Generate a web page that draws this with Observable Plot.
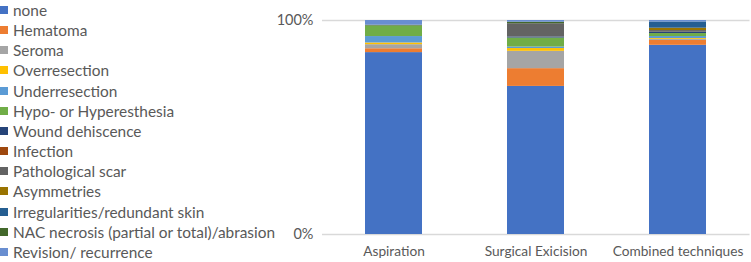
<!DOCTYPE html>
<html>
<head>
<meta charset="utf-8">
<script src="https://cdn.jsdelivr.net/npm/d3@7"></script>
<script src="https://cdn.jsdelivr.net/npm/@observablehq/plot@0.6"></script>
<style>
  body { margin: 0; background: #fff; }
  #wrap { position: relative; width: 751px; height: 262px; font-family: Lato, "Open Sans", sans-serif; }
  #legend { position: absolute; left: 0; top: 0; }
  .item { position: absolute; left: 0; height: 20px; white-space: nowrap; font-size: 15.4px; color: #595959; display: flex; align-items: center; }
  .sw { width: 8px; height: 8px; margin-right: 5px; flex: none; }
  #chart { position: absolute; left: 0; top: 0; }
</style>
</head>
<body>
<div id="wrap"><div id="chart"></div><div id="legend"></div></div>
<script>
const categories = ["Aspiration", "Surgical Exicision", "Combined techniques"];
const series = ["none", "Hematoma", "Seroma", "Overresection", "Underresection", "Hypo- or Hyperesthesia", "Wound dehiscence", "Infection", "Pathological scar", "Asymmetries", "Irregularities/redundant skin", "NAC necrosis (partial or total)/abrasion", "Revision/ recurrence"];
const colors = ["#4472C4", "#ED7D31", "#A5A5A5", "#FFC000", "#5B9BD5", "#70AD47", "#264478", "#9E480E", "#636363", "#997300", "#255E91", "#43682B", "#698ED0"];
// percent values in series order
const aspiration = [85.0, 1.8, 1.9, 0.8, 3.0, 4.9, 0, 0, 0, 0, 0, 0.4, 2.2];
const surgical   = [69.2, 8.3, 8.1, 1.3, 0.7, 4.2, 0.5, 0, 6.2, 0, 0, 0.7, 0.8];
const combined   = [88.4, 2.3, 0.5, 0.4, 0.9, 1.4, 0.6, 0, 0.8, 1.1, 2.9, 0, 0.7];
const yTicks = [0, 1];

const valuesByCat = [aspiration, surgical, combined];
const table = [];
categories.forEach((c, i) => series.forEach((s, j) => table.push({cat: c, series: s, value: valuesByCat[i][j] / 100})));

const chart = Plot.plot({
  width: 751,
  height: 262,
  marginLeft: 322,
  marginRight: 1.5,
  marginTop: 20,
  marginBottom: 28,
  style: {fontFamily: "Lato, 'Open Sans', sans-serif", fontSize: "13px", color: "#595959", background: "transparent"},
  x: {domain: categories, paddingInner: 0.6, paddingOuter: 0.3, label: null},
  y: {domain: [0, 1], label: null},
  color: {domain: series, range: colors},
  marks: [
    Plot.ruleY(yTicks, {stroke: "#d9d9d9", strokeWidth: 1.5}),
    Plot.barY(table, Plot.stackY({order: series}, {x: "cat", y: "value", fill: "series"})),
    Plot.axisY(yTicks, {tickSize: 0, tickPadding: 9, tickFormat: d => d3.format(".0%")(d), fontSize: 14.5, fill: "#595959", label: null}),
    Plot.axisX({tickSize: 0, tickPadding: 12, fontSize: 13.7, fill: "#595959", label: null})
  ]
});
document.getElementById("chart").appendChild(chart);

const legend = document.getElementById("legend");
series.forEach((s, j) => {
  const d = document.createElement("div");
  d.className = "item";
  d.style.top = (j * 20.15) + "px";
  const sw = document.createElement("span");
  sw.className = "sw";
  sw.style.background = colors[j];
  const t = document.createElement("span");
  t.textContent = s;
  d.appendChild(sw); d.appendChild(t);
  legend.appendChild(d);
});
</script>
</body>
</html>
